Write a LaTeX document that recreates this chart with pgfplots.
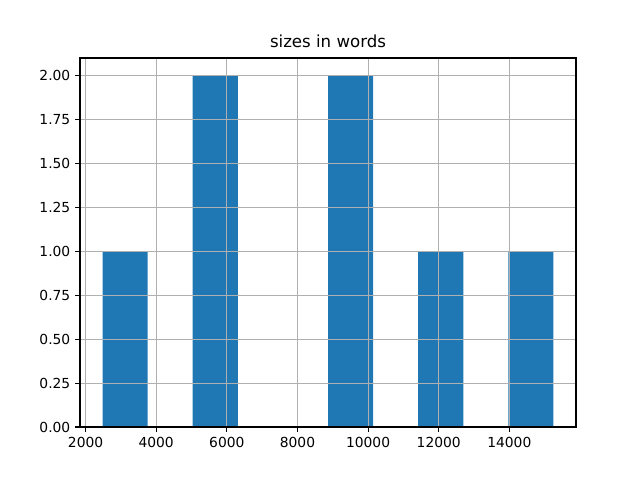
\documentclass[border=0pt]{standalone}
\usepackage{fontspec}
\setmainfont{DejaVu Sans}
\usepackage{pgfplots}
\pgfplotsset{compat=1.18}
\definecolor{mplblue}{HTML}{1F77B4}
\definecolor{gridgray}{HTML}{B0B0B0}
\begin{document}
\fontsize{10pt}{12pt}\selectfont
\begin{tikzpicture}
\begin{axis}[
  scale only axis,
  width=4.96in, height=3.69in,
  xmin=1842, xmax=15888,
  ymin=0, ymax=2.1,
  xtick={2000,4000,6000,8000,10000,12000,14000},
  ytick={0,0.25,0.5,0.75,1,1.25,1.5,1.75,2},
  /pgf/number format/assume math mode=true,
  xticklabel style={/pgf/number format/1000 sep={}},
  yticklabel style={/pgf/number format/fixed, /pgf/number format/fixed zerofill, /pgf/number format/precision=2},
  scaled x ticks=false, scaled y ticks=false,
  grid=major,
  major grid style={gridgray, line width=0.8pt},
  axis line style={black, line width=0.8pt},
  tick style={black, line width=0.8pt},
  tick align=outside,
  major tick length=3.5pt,
  xtick pos=bottom, ytick pos=left,
  axis on top,
  title={sizes in words},
  title style={font=\fontsize{12pt}{14pt}\selectfont, yshift=-2pt},
  ticklabel style={font=\fontsize{10pt}{12pt}\selectfont},
]
\addplot[ybar interval, fill=mplblue, draw=none] coordinates {
(2480,1) (3757,0) (5034,2) (6311,0) (7588,0) (8865,2) (10142,0) (11419,1) (12696,0) (13973,1) (15250,1)
};
\end{axis}
\path ([xshift=-0.8in,yshift=-0.53in]current axis.south west) rectangle ([xshift=0.64in,yshift=0.58in]current axis.north east);
\end{tikzpicture}
\end{document}
